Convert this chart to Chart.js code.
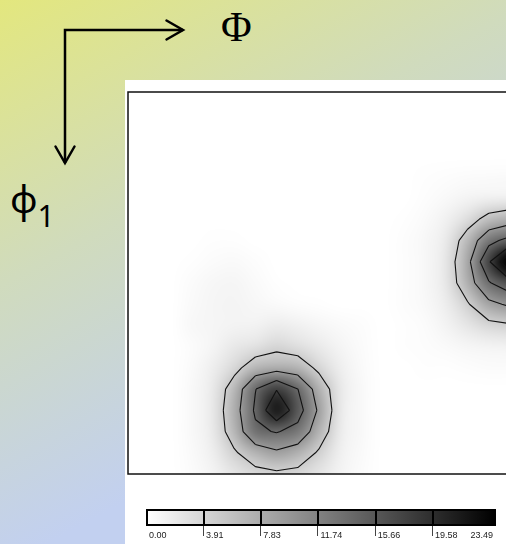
<!DOCTYPE html>
<html>
<head>
<meta charset="utf-8">
<title>ODF section</title>
<script src="https://cdn.jsdelivr.net/npm/chart.js@4.4.1/dist/chart.umd.min.js"></script>
<style>
  html, body { margin: 0; padding: 0; }
  body {
    width: 506px; height: 544px; overflow: hidden; position: relative;
    background: linear-gradient(152deg, #e3e77e 0%, #d0dbbd 35%, #c2d0f0 70%, #c2d0f0 100%);
  }
  #axes { position: absolute; left: 0; top: 0; }
  #panel { position: absolute; left: 125px; top: 80px; width: 381px; height: 464px; background: #fff; }
  #odf { position: absolute; left: 125px; top: 80px; }
  #bar { position: absolute; left: 125px; top: 495px; }
</style>
</head>
<body>
<svg id="axes" width="506" height="544">
  <g stroke="#000" stroke-width="2.5" fill="none">
    <path d="M65 163 V30 H183" stroke-linejoin="miter"/>
    <path d="M166.5 20.5 L183 30 L166.5 39.5" stroke-linecap="round"/>
    <path d="M55.5 146.5 L65 163 L74.5 146.5" stroke-linecap="round"/>
  </g>
  <text x="221" y="41" font-family="Liberation Serif" font-size="42">Φ</text>
  <text x="10" y="213" font-family="Noto Sans" font-size="38">φ<tspan font-size="30" dy="14">1</tspan></text>
</svg>
<div id="panel"></div>
<canvas id="odf" width="395" height="410"></canvas>
<canvas id="bar" width="381" height="49"></canvas>
<script>
// grid of the section: columns = Phi, rows = phi1 (degrees)
const PHI  = [0, 5, 10, 15, 20, 25, 30, 35, 40, 45, 50, 55, 60, 65, 70, 75, 80, 85, 90];
const PHI1 = [0, 5, 10, 15, 20, 25, 30, 35, 40, 45, 50, 55, 60, 65, 70, 75, 80, 85, 90];

// intensity, one row per phi1
const intensity = [
  [0, 0, 0, 0, 0, 0, 0, 0, 0, 0, 0, 0, 0, 0, 0, 0, 0, 0, 0],
  [0, 0, 0, 0, 0, 0, 0, 0, 0, 0, 0, 0, 0, 0, 0, 0, 0, 0, 0],
  [0, 0, 0, 0, 0, 0, 0, 0, 0, 0, 0, 0, 0, 0, 0, 0, 0, 0, 0],
  [0, 0, 0, 0, 0, 0, 0, 0, 0, 0, 0, 0, 0, 0, 0, 0, 0, 0, 0],
  [0, 0, 0, 0, 0, 0, 0, 0, 0, 0, 0, 0, 0, 0, 0.1, 0.2, 0.3, 0.35, 0.4],
  [0, 0, 0, 0, 0, 0, 0, 0, 0, 0, 0, 0, 0, 0, 0.2, 0.5, 0.9, 1.2, 1.3],
  [0, 0, 0, 0, 0, 0, 0, 0, 0, 0, 0, 0, 0, 0.1, 0.4, 1.1, 2.6, 5.0, 6.1],
  [0, 0, 0, 0, 0.1, 0.1, 0, 0, 0, 0, 0, 0, 0, 0.2, 0.6, 1.7, 5.4, 10.6, 13.0],
  [0, 0, 0, 0.1, 0.3, 0.4, 0.2, 0, 0, 0, 0, 0, 0, 0.2, 0.6, 2.0, 6.7, 15.19, 23.49],
  [0, 0, 0, 0.3, 0.6, 0.7, 0.4, 0.1, 0, 0, 0, 0, 0, 0.2, 0.6, 1.9, 6.0, 11.4, 14.3],
  [0, 0, 0, 0.4, 0.7, 0.8, 0.6, 0.4, 0.2, 0.1, 0, 0, 0, 0.2, 0.5, 1.4, 3.6, 6.9, 8.4],
  [0, 0, 0, 0.5, 0.7, 0.9, 1.0, 1.4, 1.1, 0.7, 0.4, 0.2, 0, 0.1, 0.3, 0.9, 1.9, 3.0, 3.5],
  [0, 0, 0, 0.3, 0.8, 1.7, 2.3, 3.1, 2.5, 1.6, 0.8, 0.3, 0, 0.1, 0.2, 0.4, 0.7, 0.9, 1.0],
  [0, 0, 0, 0.4, 1.3, 3.0, 5.6, 6.4, 5.8, 3.2, 1.3, 0.4, 0, 0, 0.1, 0.1, 0.2, 0.3, 0.3],
  [0, 0, 0, 0.5, 1.7, 5.4, 11.6, 15.45, 11.8, 6.0, 1.8, 0.5, 0, 0, 0, 0, 0, 0, 0],
  [0, 0, 0, 0.5, 1.8, 6.1, 12.3, 19.2, 13.4, 7.2, 1.8, 0.5, 0, 0, 0, 0, 0, 0, 0],
  [0, 0, 0, 0.5, 1.7, 5.5, 11.0, 12.0, 10.5, 5.8, 1.6, 0.5, 0, 0, 0, 0, 0, 0, 0],
  [0, 0, 0, 0.4, 1.3, 3.5, 5.8, 7.2, 6.0, 3.5, 1.2, 0.4, 0, 0, 0, 0, 0, 0, 0],
  [0, 0, 0, 0.3, 0.9, 2.0, 2.9, 3.3, 3.0, 2.0, 0.9, 0.3, 0, 0, 0, 0, 0, 0, 0]
];

// contour levels = colour bar ticks
const levels = [0.00, 3.91, 7.83, 11.74, 15.66, 19.58, 23.49];
const levelLabels = ['0.00', '3.91', '7.83', '11.74', '15.66', '19.58', '23.49'];

const vMax = levels[levels.length - 1];

// shading of the map is a bit darker than a straight ramp
function grey(v, gamma) {
  const t = Math.min(Math.max(v / vMax, 0), 1);
  return Math.round(255 * Math.pow(1 - t, gamma));
}

function at(r, c) {
  r = Math.max(0, Math.min(PHI1.length - 1, r));
  c = Math.max(0, Math.min(PHI.length - 1, c));
  return intensity[r][c];
}

// catmull-rom, for the smooth shading
function cr(p0, p1, p2, p3, t) {
  return p1 + 0.5 * t * (p2 - p0 + t * (2 * p0 - 5 * p1 + 4 * p2 - p3 + t * (3 * (p1 - p2) + p3 - p0)));
}

function sample(phi, phi1) {
  const gx = (phi - PHI[0]) / (PHI[1] - PHI[0]);
  const gy = (phi1 - PHI1[0]) / (PHI1[1] - PHI1[0]);
  const c = Math.floor(gx), r = Math.floor(gy);
  const tx = gx - c, ty = gy - r;
  const rows = [];
  for (let k = -1; k <= 2; k++) {
    rows.push(cr(at(r + k, c - 1), at(r + k, c), at(r + k, c + 1), at(r + k, c + 2), tx));
  }
  return cr(rows[0], rows[1], rows[2], rows[3], ty);
}

function cut(pa, pb, va, vb, L) {
  const t = (L - va) / (vb - va);
  return [pa[0] + t * (pb[0] - pa[0]), pa[1] + t * (pb[1] - pa[1])];
}

// marching squares on the grid, returns segments in (Phi, phi1)
function contour(L) {
  const segs = [];
  const edges = [[0, 1], [1, 2], [2, 3], [3, 0]];
  for (let r = 0; r < PHI1.length - 1; r++) {
    for (let c = 0; c < PHI.length - 1; c++) {
      const p = [[PHI[c], PHI1[r]], [PHI[c + 1], PHI1[r]], [PHI[c + 1], PHI1[r + 1]], [PHI[c], PHI1[r + 1]]];
      const v = [intensity[r][c], intensity[r][c + 1], intensity[r + 1][c + 1], intensity[r + 1][c]];
      const hit = {};
      let n = 0;
      edges.forEach(([a, b], i) => {
        if ((v[a] >= L) !== (v[b] >= L)) { hit[i] = cut(p[a], p[b], v[a], v[b], L); n++; }
      });
      if (n === 2) {
        const k = Object.keys(hit);
        segs.push([hit[k[0]], hit[k[1]]]);
      } else if (n === 4) {
        const mid = (v[0] + v[1] + v[2] + v[3]) / 4;
        if ((mid >= L) === (v[0] >= L)) {
          segs.push([hit[0], hit[1]], [hit[2], hit[3]]);
        } else {
          segs.push([hit[3], hit[0]], [hit[1], hit[2]]);
        }
      }
    }
  }
  return segs;
}

const odfPlugin = {
  id: 'odfSection',
  beforeDatasetsDraw(chart) {
    const { ctx, chartArea: a, scales: { x, y } } = chart;
    const w = Math.round(a.right - a.left), h = Math.round(a.bottom - a.top);
    const img = ctx.createImageData(w, h);
    for (let j = 0; j < h; j++) {
      const f1 = y.getValueForPixel(a.top + j + 0.5);
      for (let i = 0; i < w; i++) {
        const f = x.getValueForPixel(a.left + i + 0.5);
        const g = grey(sample(f, f1), 1.25);
        const k = (j * w + i) * 4;
        img.data[k] = g; img.data[k + 1] = g; img.data[k + 2] = g; img.data[k + 3] = 255;
      }
    }
    ctx.putImageData(img, a.left, a.top);

    ctx.save();
    ctx.beginPath();
    ctx.rect(a.left, a.top, w, h);
    ctx.clip();
    ctx.strokeStyle = '#111';
    ctx.lineWidth = 1.1;
    ctx.beginPath();
    levels.slice(1, -1).forEach(L => {
      contour(L).forEach(([p, q]) => {
        ctx.moveTo(x.getPixelForValue(p[0]), y.getPixelForValue(p[1]));
        ctx.lineTo(x.getPixelForValue(q[0]), y.getPixelForValue(q[1]));
      });
    });
    ctx.stroke();
    ctx.restore();

    ctx.strokeStyle = '#111';
    ctx.lineWidth = 1.5;
    ctx.strokeRect(a.left, a.top, w, h);
  }
};

const points = [];
PHI1.forEach((f1, r) => PHI.forEach((f, c) => points.push({ x: f, y: f1, v: intensity[r][c] })));

new Chart(document.getElementById('odf'), {
  type: 'scatter',
  data: { datasets: [{ data: points, pointRadius: 0 }] },
  options: {
    responsive: false,
    animation: false,
    events: [],
    layout: { padding: { left: 3, top: 12, right: 10, bottom: 16 } },
    plugins: { legend: { display: false }, tooltip: { enabled: false } },
    scales: {
      x: { type: 'linear', min: 0, max: 90, display: false },
      y: { type: 'linear', min: 0, max: 90, reverse: true, display: false }
    }
  },
  plugins: [odfPlugin]
});

const barPlugin = {
  id: 'colourBar',
  afterDraw(chart) {
    const { ctx, chartArea: a, scales: { x } } = chart;
    const left = x.getPixelForValue(levels[0]);
    const right = x.getPixelForValue(vMax) + 5;
    const grad = ctx.createLinearGradient(left, 0, right, 0);
    grad.addColorStop(0, '#fff');
    grad.addColorStop(1, '#000');
    ctx.fillStyle = grad;
    ctx.fillRect(left, a.top, right - left, a.bottom - a.top);

    ctx.strokeStyle = '#000';
    ctx.lineWidth = 2;
    ctx.beginPath();
    levels.slice(1, -1).forEach(v => {
      const px = Math.round(x.getPixelForValue(v));
      ctx.moveTo(px, a.top);
      ctx.lineTo(px, a.bottom);
    });
    ctx.stroke();
    ctx.lineWidth = 1;
    ctx.strokeStyle = '#444';
    ctx.beginPath();
    levels.slice(1, -1).forEach(v => {
      const px = Math.round(x.getPixelForValue(v)) - 0.5;
      ctx.moveTo(px, a.bottom);
      ctx.lineTo(px, a.bottom + 11);
    });
    ctx.stroke();
    ctx.lineWidth = 2;
    ctx.strokeStyle = '#000';
    ctx.strokeRect(left, a.top, right - left, a.bottom - a.top);

    ctx.font = '9px "Liberation Sans", Arial, sans-serif';
    ctx.fillStyle = '#222';
    ctx.textBaseline = 'alphabetic';
    levelLabels.forEach((t, i) => {
      if (i === levelLabels.length - 1) {
        ctx.textAlign = 'right';
        ctx.fillText(t, right - 2, a.bottom + 13);
      } else {
        ctx.textAlign = 'left';
        ctx.fillText(t, x.getPixelForValue(levels[i]) + 2, a.bottom + 13);
      }
    });
  }
};

new Chart(document.getElementById('bar'), {
  type: 'scatter',
  data: { datasets: [{ data: [] }] },
  options: {
    responsive: false,
    animation: false,
    events: [],
    layout: { padding: { left: 22, top: 15, right: 16, bottom: 19 } },
    plugins: { legend: { display: false }, tooltip: { enabled: false } },
    scales: {
      x: { type: 'linear', min: 0, max: vMax, display: false },
      y: { display: false }
    }
  },
  plugins: [barPlugin]
});
</script>
</body>
</html>
